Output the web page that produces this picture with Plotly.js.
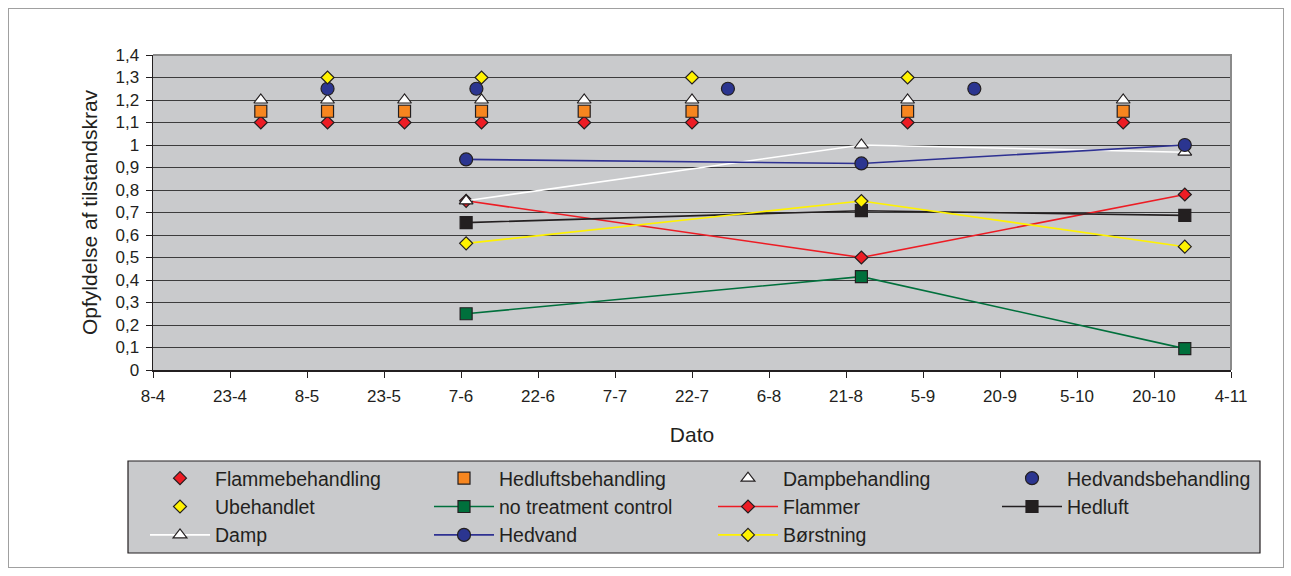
<!DOCTYPE html>
<html>
<head>
<meta charset="utf-8">
<script src="https://cdn.plot.ly/plotly-3.0.1.min.js"></script>
<style>
  html, body { margin: 0; padding: 0; background: #ffffff; }
  #wrap { position: relative; width: 1291px; height: 576px; }
  #chart { position: absolute; left: 0; top: 0; width: 1291px; height: 576px; }
  #frame { position: absolute; left: 8px; top: 8px; width: 1274px; height: 558px;
           border: 1px solid #a0a0a0; pointer-events: none; }
</style>
</head>
<body>
<div id="wrap"><div id="chart"></div><div id="frame"></div></div>
<script>
// ---- Data ----
const tickDates = ['2007-04-08','2007-04-23','2007-05-08','2007-05-23','2007-06-07','2007-06-22','2007-07-07',
                   '2007-07-22','2007-08-06','2007-08-21','2007-09-05','2007-09-20','2007-10-05','2007-10-20','2007-11-04'];
const tickLabels = ['8-4','23-4','8-5','23-5','7-6','22-6','7-7','22-7','6-8','21-8','5-9','20-9','5-10','20-10','4-11'];
const yTickVals = [0,0.1,0.2,0.3,0.4,0.5,0.6,0.7,0.8,0.9,1,1.1,1.2,1.3,1.4];
const yTickLabels = ['0','0,1','0,2','0,3','0,4','0,5','0,6','0,7','0,8','0,9','1','1,1','1,2','1,3','1,4'];

const treatmentDates = ['2007-04-29','2007-05-12','2007-05-27','2007-06-11','2007-07-01','2007-07-22','2007-09-02','2007-10-14'];
const flammebehandling   = [1.1, 1.1, 1.1, 1.1, 1.1, 1.1, 1.1, 1.1];
const hedluftsbehandling = [1.15, 1.15, 1.15, 1.15, 1.15, 1.15, 1.15, 1.15];
const dampbehandling     = [1.2, 1.2, 1.2, 1.2, 1.2, 1.2, 1.2, 1.2];
const hedvandsDates      = ['2007-05-12','2007-06-10','2007-07-29','2007-09-15'];
const hedvandsbehandling = [1.25, 1.25, 1.25, 1.25];
const ubehandletDates    = ['2007-05-12','2007-06-11','2007-07-22','2007-09-02'];
const ubehandlet         = [1.3, 1.3, 1.3, 1.3];

const measureDates = ['2007-06-08','2007-08-24','2007-10-26'];
const noTreatment  = [0.25, 0.415, 0.095];
const flammer      = [0.752, 0.5, 0.78];
const hedluft      = [0.655, 0.708, 0.687];
const damp         = [0.752, 1.0, 0.968];
const hedvand      = [0.936, 0.918, 1.0];
const borstning    = [0.563, 0.751, 0.548];

// ---- Styles ----
const edge = '#231f20';
function pts(name, x, y, symbol, fill, size) {
  return { type: 'scatter', mode: 'markers', name: name, x: x, y: y,
           marker: { symbol: symbol, color: fill, size: size, line: { color: edge, width: 1.2 } } };
}
function lin(name, x, y, lineColor, symbol, fill, size) {
  return { type: 'scatter', mode: 'lines+markers', name: name, x: x, y: y,
           line: { color: lineColor, width: 1.6 },
           marker: { symbol: symbol, color: fill, size: size, line: { color: edge, width: 1.2 } } };
}

const traces = [
  pts('Flammebehandling', treatmentDates, flammebehandling, 'diamond', '#ed1c24', 10),
  pts('Hedluftsbehandling', treatmentDates, hedluftsbehandling, 'square', '#f7861f', 12),
  pts('Dampbehandling', treatmentDates, dampbehandling, 'triangle-up', '#ffffff', 12),
  pts('Hedvandsbehandling', hedvandsDates, hedvandsbehandling, 'circle', '#2b3590', 13),
  pts('Ubehandlet', ubehandletDates, ubehandlet, 'diamond', '#fff200', 10),
  lin('no treatment control', measureDates, noTreatment, '#00703c', 'square', '#00703c', 12),
  lin('Flammer', measureDates, flammer, '#ed1c24', 'diamond', '#ed1c24', 10),
  lin('Hedluft', measureDates, hedluft, '#231f20', 'square', '#231f20', 12),
  lin('Damp', measureDates, damp, '#ffffff', 'triangle-up', '#ffffff', 12),
  lin('Hedvand', measureDates, hedvand, '#2e3192', 'circle', '#2b3590', 13),
  lin('Børstning', measureDates, borstning, '#fff200', 'diamond', '#fff200', 10)
];

const L = 153, R = 60, T = 55, B = 206, W = 1291, H = 576;
const pw = W - L - R, ph = H - T - B;
const px2x = p => (p - L) / pw;
const py2y = p => (H - B - p) / ph;

const layout = {
  width: W, height: H,
  margin: { l: L, r: R, t: T, b: B, autoexpand: false },
  paper_bgcolor: '#ffffff',
  plot_bgcolor: '#c9cacc',
  font: { family: 'Liberation Sans, Arial, sans-serif', color: '#231f20', size: 17 },
  showlegend: true,
  xaxis: {
    type: 'date',
    range: [tickDates[0], tickDates[tickDates.length - 1]],
    tickmode: 'array', tickvals: tickDates, ticktext: tickLabels,
    ticks: 'outside', ticklen: 6, tickcolor: '#231f20', tickwidth: 1,
    ticklabelstandoff: 4,
    showline: true, linecolor: '#231f20', linewidth: 1.5,
    showgrid: false, zeroline: false,
    tickfont: { size: 17 },
    title: { text: 'Dato', font: { size: 21 }, standoff: 22 }
  },
  yaxis: {
    range: [0, 1.4],
    tickmode: 'array', tickvals: yTickVals, ticktext: yTickLabels,
    ticks: 'outside', ticklen: 6, tickcolor: '#231f20', tickwidth: 1,
    ticklabelstandoff: 3,
    showline: true, linecolor: '#231f20', linewidth: 1.5,
    showgrid: true, gridcolor: '#3c3c3c', gridwidth: 1,
    zeroline: false,
    tickfont: { size: 17 },
    title: { text: 'Opfyldelse af tilstandskrav', font: { size: 21 }, standoff: 12 }
  },
  legend: {
    orientation: 'h',
    x: px2x(145), xanchor: 'left',
    y: py2y(459), yanchor: 'top',
    bgcolor: 'rgba(0,0,0,0)', borderwidth: 0,
    itemwidth: 60,
    entrywidth: 209, entrywidthmode: 'pixels',
    font: { size: 19.5, color: '#231f20' },
    itemclick: false, itemdoubleclick: false
  },
  shapes: [
    // legend box
    { type: 'rect', xref: 'paper', yref: 'paper', layer: 'below',
      x0: px2x(128), x1: px2x(1260), y0: py2y(553), y1: py2y(461),
      fillcolor: '#c9cacc', line: { color: '#231f20', width: 1.2 } },
    // plot area top/right border (gray)
    { type: 'path', xref: 'paper', yref: 'paper', layer: 'above',
      path: 'M 0 1 L 1 1 L 1 0', line: { color: '#8a8a8a', width: 2 } }
  ]
};

Plotly.newPlot('chart', traces, layout, { displayModeBar: false, staticPlot: true });
</script>
</body>
</html>
